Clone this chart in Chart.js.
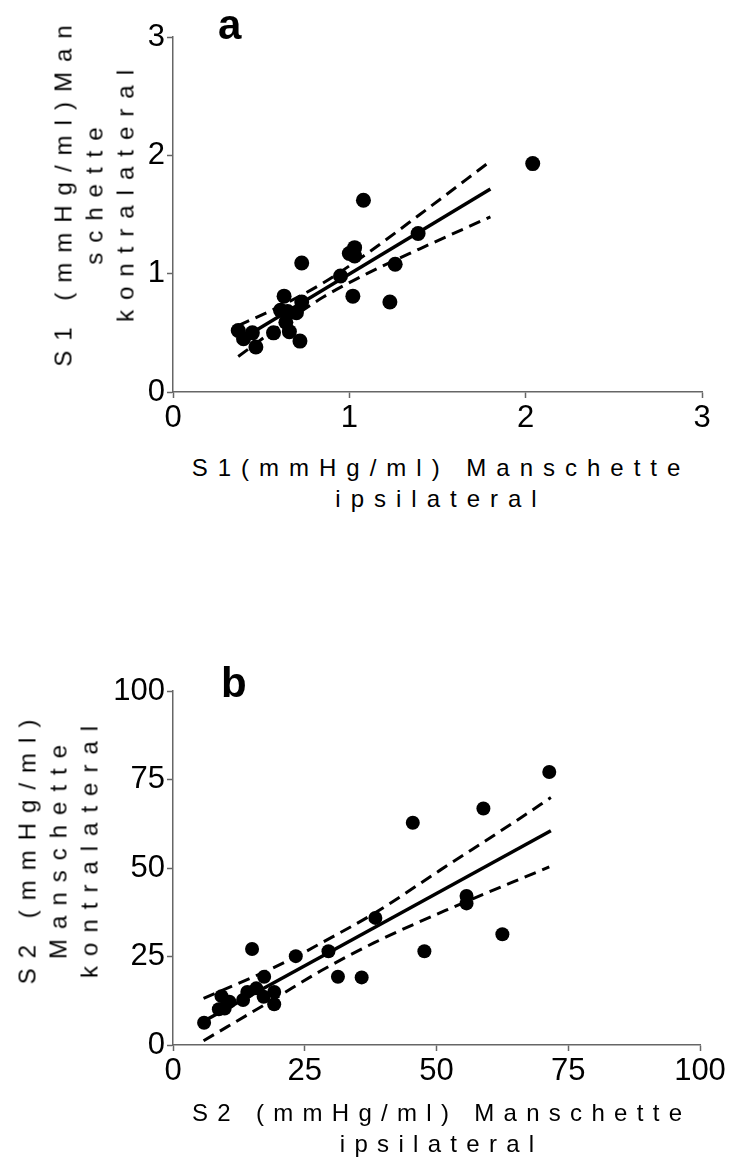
<!DOCTYPE html>
<html>
<head>
<meta charset="utf-8">
<script src="https://cdn.jsdelivr.net/npm/chart.js@4"></script>
<style>
  body { margin: 0; background: #fff; width: 731px; height: 1162px; position: relative; overflow: hidden; font-family: "Liberation Sans", Arial, sans-serif; }
  canvas { position: absolute; left: 0; }
  .ttl { position: absolute; color: #000; font-size: 24px; letter-spacing: 10px; padding-left: 10px; white-space: nowrap; text-align: center; line-height: 31px; transform: translate(-50%, -50%); }
  .ttl.rot { transform: translate(-50%, -50%) rotate(-90deg); }
  .ttl.narrow { letter-spacing: 9.3px; padding-left: 9.3px; }
  .panel { position: absolute; font-weight: bold; font-size: 42px; line-height: 1; color: #000; }
</style>
</head>
<body>
<canvas id="chartA" width="731" height="440" style="top:0"></canvas>
<canvas id="chartB" width="731" height="450" style="top:650px"></canvas>

<div class="panel" style="left:218px;top:4px">a</div>
<div class="panel" style="left:221px;top:662px">b</div>

<div class="ttl rot" style="left:94px;top:196px">S1 (mmHg/ml)Man<br>schette<br>kontralateral</div>
<div class="ttl" style="left:436px;top:483px">S1(mmHg/ml) Manschette<br>ipsilateral</div>
<div class="ttl rot" style="left:58px;top:852px">S2 (mmHg/ml)<br>Manschette<br>kontralateral</div>
<div class="ttl narrow" style="left:437px;top:1128px">S2 (mmHg/ml) Manschette<br>ipsilateral</div>

<script>
/* panel a: S1 ipsilateral vs kontralateral */
const s1Ipsi    = [1.08, 1.39, 1.03, 1.00, 1.03, 0.73, 1.26, 0.95, 1.02, 1.23, 0.63, 0.73, 0.61, 0.65, 0.70, 0.64, 0.37, 0.45, 0.40, 0.57, 0.66, 0.72, 0.47, 2.04];
const s1Kontra  = [1.62, 1.34, 1.22, 1.17, 1.15, 1.09, 1.08, 0.98, 0.81, 0.76, 0.81, 0.76, 0.69, 0.68, 0.67, 0.59, 0.52, 0.50, 0.45, 0.50, 0.51, 0.43, 0.38, 1.93];
const s1FitX    = [0.38, 1.80];
const s1FitY    = [0.44, 1.715];
const s1BandX   = [0.37, 0.60, 0.85, 1.10, 1.40, 1.80];
const s1Upper   = [0.56, 0.72, 0.92, 1.17, 1.50, 1.95];
const s1Lower   = [0.30, 0.55, 0.80, 1.00, 1.21, 1.48];
const s1Ticks   = [0, 1, 2, 3];

/* panel b: S2 ipsilateral vs kontralateral */
const s2Ipsi    = [71.4, 58.9, 45.5, 55.7, 55.7, 62.5, 47.7, 38.4, 29.5, 23.3, 15.0, 31.3, 35.8, 17.3, 19.2, 19.2, 15.8, 14.1, 13.3, 17.2, 10.7, 9.2, 8.7, 9.8, 5.9];
const s2Kontra  = [77.1, 66.8, 62.8, 42.1, 40.0, 31.3, 26.5, 35.9, 26.5, 25.1, 27.1, 19.3, 19.1, 19.3, 15.0, 11.5, 16.0, 15.0, 12.7, 13.6, 12.2, 13.8, 10.1, 10.3, 6.3];
const s2FitX    = [5.9, 71.7];
const s2FitY    = [6.8, 60.5];
const s2UpX     = [5.8, 15.2, 23.3, 28.0, 38.2, 50.7, 65.8, 71.7];
const s2Upper   = [13.2, 19.2, 24.9, 28.7, 37.2, 49.4, 64.0, 69.9];
const s2LowX    = [5.8, 19.2, 28.0, 38.2, 51.7, 71.4];
const s2Lower   = [1.2, 13.0, 20.9, 28.9, 38.0, 50.3];
const s2Ticks   = [0, 25, 50, 75, 100];

const pts = (xs, ys) => xs.map((x, i) => ({ x, y: ys[i] }));
const AX = "#666";

function axis(max, step, fit) {
  return {
    type: "linear", min: 0, max, afterFit: fit,
    ticks: { stepSize: step, color: "#000", padding: 2, font: { size: 31, family: "'Liberation Sans', Arial, sans-serif" } },
    grid: { drawOnChartArea: false, drawTicks: true, tickLength: 6, tickColor: AX, tickWidth: 1.5 },
    border: { color: AX, width: 1.5 },
  };
}

function panel(id, cfg) {
  const dash = { showLine: true, borderColor: "#000", borderWidth: 3, borderDash: [12, 7], pointRadius: 0, cubicInterpolationMode: "monotone" };
  new Chart(document.getElementById(id), {
    type: "scatter",
    data: { datasets: [
      { data: pts(cfg.fitX, cfg.fitY), showLine: true, borderColor: "#000", borderWidth: 3.5, pointRadius: 0 },
      { data: pts(cfg.upX, cfg.up), ...dash },
      { data: pts(cfg.lowX, cfg.low), ...dash },
      { data: pts(cfg.x, cfg.y), pointRadius: cfg.r, backgroundColor: "#000", borderColor: "#000", borderWidth: 0 },
    ] },
    options: {
      responsive: false, animation: false, events: [], devicePixelRatio: 1,
      layout: { padding: cfg.pad },
      plugins: { legend: { display: false }, tooltip: { enabled: false } },
      scales: {
        x: axis(cfg.ticks[cfg.ticks.length - 1], cfg.ticks[1] - cfg.ticks[0], (s) => { s.height = 48; }),
        y: axis(cfg.ticks[cfg.ticks.length - 1], cfg.ticks[1] - cfg.ticks[0], (s) => { s.width = 173; }),
      },
    },
  });
}

panel("chartA", { x: s1Ipsi, y: s1Kontra, fitX: s1FitX, fitY: s1FitY, upX: s1BandX, up: s1Upper, lowX: s1BandX, low: s1Lower,
  ticks: s1Ticks, r: 7.5, pad: { top: 37, right: 29, bottom: 0, left: 0 } });
panel("chartB", { x: s2Ipsi, y: s2Kontra, fitX: s2FitX, fitY: s2FitY, upX: s2UpX, up: s2Upper, lowX: s2LowX, low: s2Lower,
  ticks: s2Ticks, r: 7, pad: { top: 41, right: 31, bottom: 7, left: 0 } });
</script>
</body>
</html>
